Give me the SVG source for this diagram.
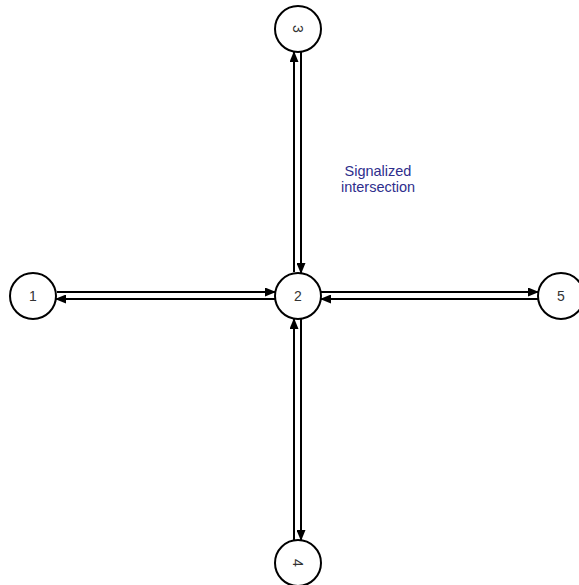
<svg xmlns="http://www.w3.org/2000/svg" width="579" height="585" viewBox="0 0 579 585">
  <style>
    .node circle { fill: #ffffff; stroke: #000000; stroke-width: 2; }
    .node text { font-family: "Liberation Sans", Arial, sans-serif; font-size: 14px; fill: #333333; text-anchor: middle; dominant-baseline: central; }
    .edge { stroke: #000000; stroke-width: 2; fill: none; marker-end: url(#arrow); }
    .label { font-family: "Liberation Sans", Arial, sans-serif; font-size: 14.5px; fill: #2e2e8c; text-anchor: middle; }
  </style>
  <defs>
    <marker id="arrow" markerUnits="userSpaceOnUse" markerWidth="11" markerHeight="9" refX="10" refY="4.5" orient="auto">
      <path d="M0,0 L11,4.5 L0,9 z" fill="#000000"/>
    </marker>
  </defs>
  <rect width="579" height="585" fill="#ffffff"/>
  <g id="connectors">
    <line class="edge" x1="294" y1="272" x2="294" y2="52"/>
    <line class="edge" x1="301" y1="52" x2="301" y2="273"/>
    <line class="edge" x1="294" y1="540" x2="294" y2="319"/>
    <line class="edge" x1="301" y1="319" x2="301" y2="540"/>
    <line class="edge" x1="57" y1="292" x2="275" y2="292"/>
    <line class="edge" x1="275" y1="299" x2="56" y2="299"/>
    <line class="edge" x1="321" y1="292" x2="538" y2="292"/>
    <line class="edge" x1="538" y1="299" x2="321" y2="299"/>
  </g>
  <g id="node1" class="node"><circle cx="33" cy="296" r="23"/><text x="33" y="296">1</text></g>
  <g id="node2" class="node"><circle cx="298" cy="296" r="23"/><text x="298" y="296">2</text></g>
  <g id="node3" class="node"><circle cx="298" cy="29" r="23"/><text x="298" y="29" transform="rotate(90 298 29)">3</text></g>
  <g id="node4" class="node"><circle cx="298" cy="563" r="23"/><text x="298" y="563" transform="rotate(90 298 563)">4</text></g>
  <g id="node5" class="node"><circle cx="561" cy="296" r="23"/><text x="561" y="296">5</text></g>
  <g id="annotation">
    <text class="label" x="378" y="176">Signalized</text>
    <text class="label" x="378" y="192">intersection</text>
  </g>
</svg>
